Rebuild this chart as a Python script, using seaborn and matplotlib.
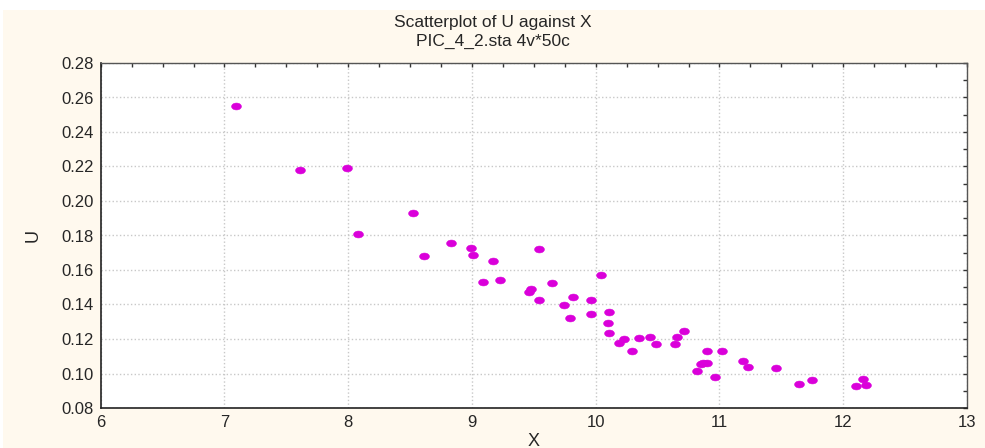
import numpy as np
import pandas as pd
import matplotlib
matplotlib.use("Agg")
import matplotlib.pyplot as plt
import seaborn as sns
from matplotlib.ticker import MultipleLocator, FormatStrFormatter
from matplotlib.patches import Rectangle
from matplotlib.path import Path

# values (50 cases)
x_vals = [7.09, 7.61, 7.99, 8.08, 8.52, 8.61, 8.83, 8.99, 9.01, 9.17,
          9.09, 9.23, 9.54, 9.48, 9.46, 9.54, 9.65, 9.82, 9.74, 9.79,
          9.96, 9.96, 10.04, 10.11, 10.10, 10.11, 10.19, 10.23, 10.29, 10.35,
          10.44, 10.49, 10.64, 10.66, 10.71, 10.82, 10.85, 10.87, 10.90, 10.90,
          10.96, 11.02, 11.19, 11.23, 11.46, 11.64, 11.75, 12.10, 12.16, 12.18]
u_vals = [0.2553, 0.2177, 0.2191, 0.1810, 0.1933, 0.1679, 0.1754, 0.1729, 0.1686, 0.1651,
          0.1530, 0.1540, 0.1723, 0.1492, 0.1472, 0.1428, 0.1523, 0.1446, 0.1397, 0.1322,
          0.1428, 0.1343, 0.1570, 0.1357, 0.1293, 0.1235, 0.1178, 0.1201, 0.1130, 0.1205,
          0.1210, 0.1170, 0.1170, 0.1210, 0.1245, 0.1012, 0.1053, 0.1060, 0.1060, 0.1133,
          0.0979, 0.1133, 0.1072, 0.1039, 0.1031, 0.0941, 0.0964, 0.0927, 0.0968, 0.0933]

df = pd.DataFrame({"X": x_vals, "U": u_vals})

sns.set_style("white")
plt.rcParams['font.family'] = ['Liberation Sans', 'DejaVu Sans']

cream = '#FFF9EE'
fig = plt.figure(figsize=(9.85, 4.48), dpi=100, facecolor=cream)
# white strip at the top and left edge like the screenshot
fig.patches.append(Rectangle((0, 1 - 10 / 448), 1, 10 / 448, transform=fig.transFigure,
                             facecolor='white', edgecolor='none', zorder=0))
fig.patches.append(Rectangle((0, 0), 3 / 985, 1, transform=fig.transFigure,
                             facecolor='white', edgecolor='none', zorder=0))

ax = fig.add_axes([100.7 / 985, 1 - 408 / 448, (967 - 100.7) / 985, (408 - 63) / 448])
ax.set_facecolor('white')

# slightly flattened dots, like the stretched screenshot
circle = Path.unit_circle()
ellipse = Path(circle.vertices * np.array([1.0, 0.7]), circle.codes)

sns.scatterplot(data=df, x="X", y="U", ax=ax, color='#DA00DA', s=50, marker=ellipse,
                edgecolor='#DA00DA', linewidth=0.4, zorder=3)

ax.set_xlim(6, 13)
ax.set_ylim(0.08, 0.28)
ax.xaxis.set_major_locator(MultipleLocator(1))
ax.xaxis.set_minor_locator(MultipleLocator(0.25))
ax.yaxis.set_major_locator(MultipleLocator(0.02))
ax.yaxis.set_minor_locator(MultipleLocator(0.01))
ax.yaxis.set_major_formatter(FormatStrFormatter('%.2f'))

ax.tick_params(which='both', direction='in', top=True, right=True, length=3,
               width=1, color='#333333', labelsize=12, pad=5)
ax.grid(True, which='major', linestyle=':', color='#c8c8c8', linewidth=1)

for side in ['left', 'bottom']:
    ax.spines[side].set_color('#222222')
    ax.spines[side].set_linewidth(1.2)
for side in ['top', 'right']:
    ax.spines[side].set_color('#555555')
    ax.spines[side].set_linewidth(1)

ax.set_xlabel('X', fontsize=13, labelpad=2)
ax.set_ylabel('U', fontsize=13, labelpad=14)

fig.text(0.5, 1 - 22 / 448, 'Scatterplot of U against X', ha='center', va='center', fontsize=12.5)
fig.text(0.5, 1 - 41 / 448, 'PIC_4_2.sta 4v*50c', ha='center', va='center', fontsize=12.5)

fig.savefig('out.png', dpi=100, facecolor=cream)
